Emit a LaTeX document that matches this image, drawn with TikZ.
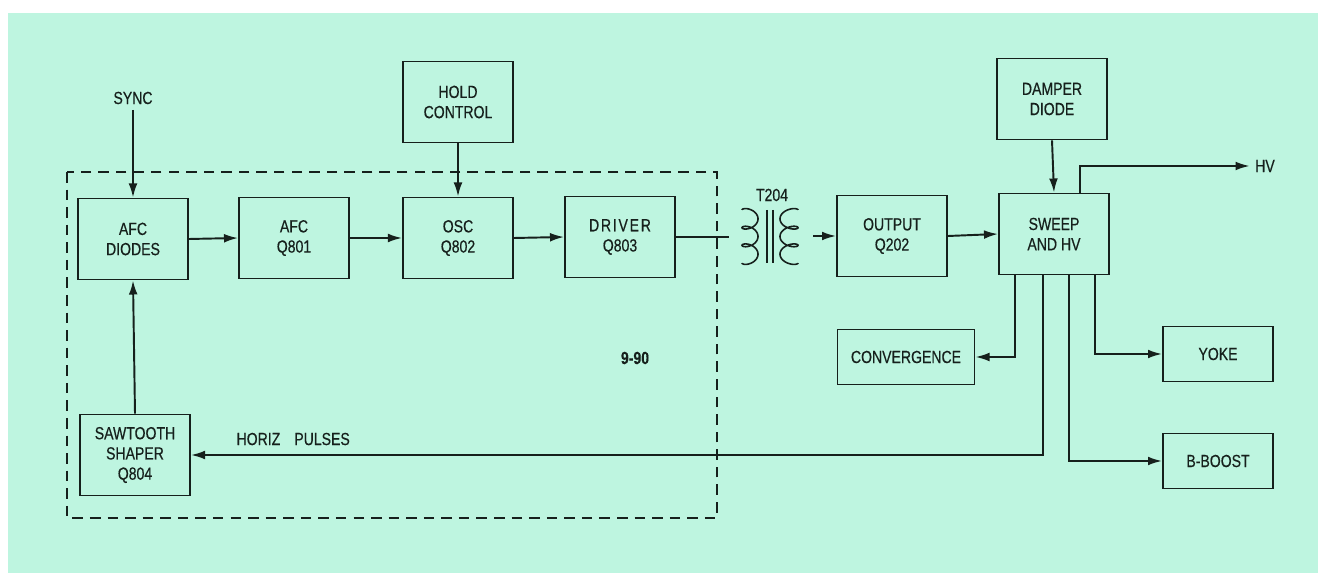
\documentclass[tikz,border=0pt]{standalone}
\usepackage{fontspec}
\setmainfont{Liberation Sans}[FakeStretch=0.8, FakeBold=0.4]
\usepackage{tikz}
\usetikzlibrary{arrows.meta,positioning,calc}
\definecolor{mint}{RGB}{190,245,224}
\definecolor{ink}{RGB}{22,32,28}

\begin{document}
\begin{tikzpicture}[
    x=0.02cm, y=-0.02cm,
    block/.style={rectangle, draw=ink, line width=1.1pt, minimum width=2.2cm, minimum height=1.62cm, align=center, inner sep=0pt, text=ink, font=\fontsize{10}{11.5}\selectfont},
    flat/.style={block, minimum height=1.1cm},
    arrow/.style={-{Latex[length=8pt,width=5pt]}, line width=1.1pt, draw=ink},
    wire/.style={line width=1.1pt, draw=ink},
    note/.style={text=ink, font=\fontsize{10}{11.5}\selectfont, inner sep=3pt}
]
    % Background
    \useasboundingbox (0,0) rectangle (1318,573);
    \fill[white] (0,0) rectangle (1318,573);
    \fill[mint] (8,13) rectangle (1318,573);

    % Horizontal oscillator board (dashed outline)
    \draw[ink, line width=0.9pt, dash pattern=on 6pt off 4pt] (67,172) rectangle (717,518);
    \node[note, font=\fontsize{10}{11.5}\selectfont\bfseries] (board) at (635,358) {9-90};

    % Top row
    \node[note] (sync) at (133,98) {SYNC};
    \node[block] (afcd) at (133,239) {AFC\\DIODES};
    \node[block] (afcq) at (294,238) {AFC\\Q801};
    \node[block] (osc) at (458,238) {OSC\\Q802};
    \node[block] (hold) at (458,102) {HOLD\\CONTROL};
    \node[block] (driver) at (620,237) {\addfontfeature{LetterSpace=10}DRIVER\\Q803};
    \node[block] (saw) at (135,455) {SAWTOOTH\\SHAPER\\Q804};

    % Transformer T204
    \coordinate (tin) at (729,237);
    \coordinate (tout) at (813,236);
    \node[note] (tlabel) at (772,195) {T204};
    \draw[wire, line width=0.9pt] plot[domain=0:1080, samples=150, smooth] ({750-8*cos(\x)},{210+0.04907*\x-5*sin(\x)});
    \draw[wire, line width=0.9pt] plot[domain=0:1080, samples=150, smooth] ({789+9*cos(\x)},{210+0.04907*\x-5*sin(\x)});
    \draw[wire, line width=0.9pt] (767,210) -- (767,263);
    \draw[wire, line width=0.9pt] (773,210) -- (773,263);

    % Output stage
    \node[block] (output) at (892,236) {OUTPUT\\Q202};
    \node[block] (sweep) at (1054,234) {SWEEP\\AND HV};
    \node[block] (damper) at (1052,99) {DAMPER\\DIODE};
    \node[note] (hv) at (1265,166) {HV};
    \node[flat, minimum width=2.74cm] (conv) at (906,357) {CONVERGENCE};
    \node[flat] (yoke) at (1218,354) {YOKE};
    \node[flat] (boost) at (1218,461) {B-BOOST};

    % Signal path
    \draw[arrow] (sync) -- (afcd.north);
    \draw[arrow] (afcd.east) -- (afcq.west);
    \draw[arrow] (afcq.east) -- (osc.west);
    \draw[arrow] (osc.east) -- (driver.west);
    \draw[arrow] (hold.south) -- (osc.north);
    \draw[arrow] (saw.north) -- (afcd.south);
    \draw[wire] (driver.east) -- (tin);
    \draw[arrow] (tout) -- (output.west);
    \draw[arrow] (output.east) -- (sweep.west);
    \draw[arrow] (damper.south) -- (sweep.north);
    \draw[arrow] ($(sweep.north)+(26,0)$) |- (hv.west);

    % Taps from sweep
    \draw[arrow] ($(sweep.south)+(-39,0)$) |- (conv.east);
    \draw[arrow] ($(sweep.south)+(-11,0)$) |- node[note, pos=0.94, above=2pt] {HORIZ\hspace{0.8em}PULSES} (saw.east);
    \draw[arrow] ($(sweep.south)+(15,0)$) |- (boost.west);
    \draw[arrow] ($(sweep.south)+(41,0)$) |- (yoke.west);
\end{tikzpicture}
\end{document}
